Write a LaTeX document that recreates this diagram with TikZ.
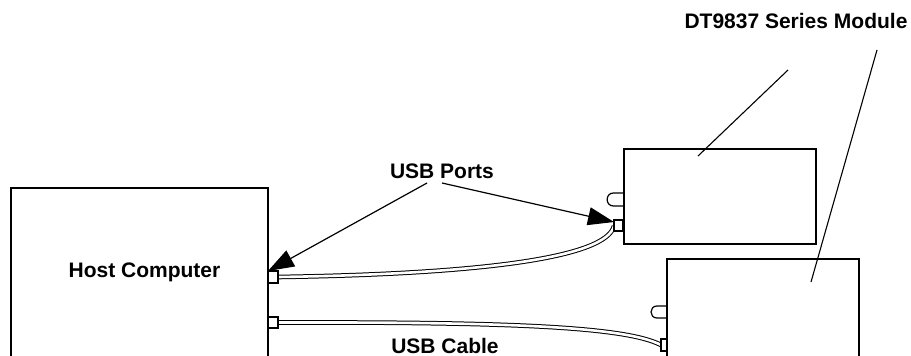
\documentclass[tikz,border=0pt]{standalone}
\usepackage{fontspec}
\setmainfont{Liberation Sans}
\usetikzlibrary{arrows.meta}
\begin{document}
\begin{tikzpicture}[x=1pt,y=-1pt,
  box/.style={draw,line width=2pt,inner sep=0pt,outer sep=0pt,anchor=north west},
  port/.style={draw,line width=1.3pt,fill=white,inner sep=0pt,outer sep=0pt,anchor=north west},
  lbl/.style={font=\fontsize{21}{24}\selectfont\bfseries,anchor=base,inner sep=0pt},
  cable/.style={double=white,double distance=2.6pt,line width=1pt},
  leader/.style={line width=1.1pt},
  pointer/.style={line width=1.2pt,-{Triangle[length=26pt,width=18pt]}},
  bump/.style={line width=1.2pt}]
\useasboundingbox (0,0) rectangle (911,356);
% boxes
\node[box,minimum width=257pt,minimum height=190pt] (host) at (11,188) {};
\node[box,minimum width=192pt,minimum height=95pt] (mod1) at (624,149) {};
\node[box,minimum width=192pt,minimum height=120pt] (mod2) at (667,259) {};
% bumps
\draw[bump] (623,193) -- (613.5,193) .. controls (605,193) and (605,206) .. (613.5,206) -- (623,206);
\draw[bump] (666,306) -- (657,306) .. controls (649,306) and (649,318) .. (657,318) -- (666,318);
% cables
\coordinate (h1) at (278,277);
\coordinate (h2) at (278,322.5);
\coordinate (m1) at (614,226);
\coordinate (m2) at (661,345);
\draw[cable] (h1) .. controls (480,274) and (606,258) .. (m1);
\draw[cable] (h2) .. controls (500,322) and (625,326) .. (m2);
% ports
\node[port,minimum width=10pt,minimum height=12pt] (p1) at (268,271) {};
\node[port,minimum width=10pt,minimum height=11pt] (p2) at (268,317) {};
\node[port,minimum width=9pt,minimum height=11pt] (p3) at (614,220) {};
\node[port,minimum width=6pt,minimum height=12pt] (p4) at (661,339) {};
% labels
\node[lbl] (lhost) at (144.5,277) {Host Computer};
\node[lbl] (lports) at (442,178) {USB Ports};
\node[lbl] (lcable) at (445,353) {USB Cable};
\node[lbl] (lmod) at (796,28) {DT9837 Series Module};
% pointers
\coordinate (a1) at (427,183);
\coordinate (a2) at (442,183);
\draw[pointer] (a1) -- (p1.north west);
\draw[pointer] (a2) -- ([yshift=-2pt]p3.north west);
\coordinate (d1) at (788,70);
\coordinate (d1e) at (698,156);
\coordinate (d2) at (877,50);
\coordinate (d2e) at (811,282);
\draw[leader] (d1) -- (d1e);
\draw[leader] (d2) -- (d2e);
\end{tikzpicture}
\end{document}
